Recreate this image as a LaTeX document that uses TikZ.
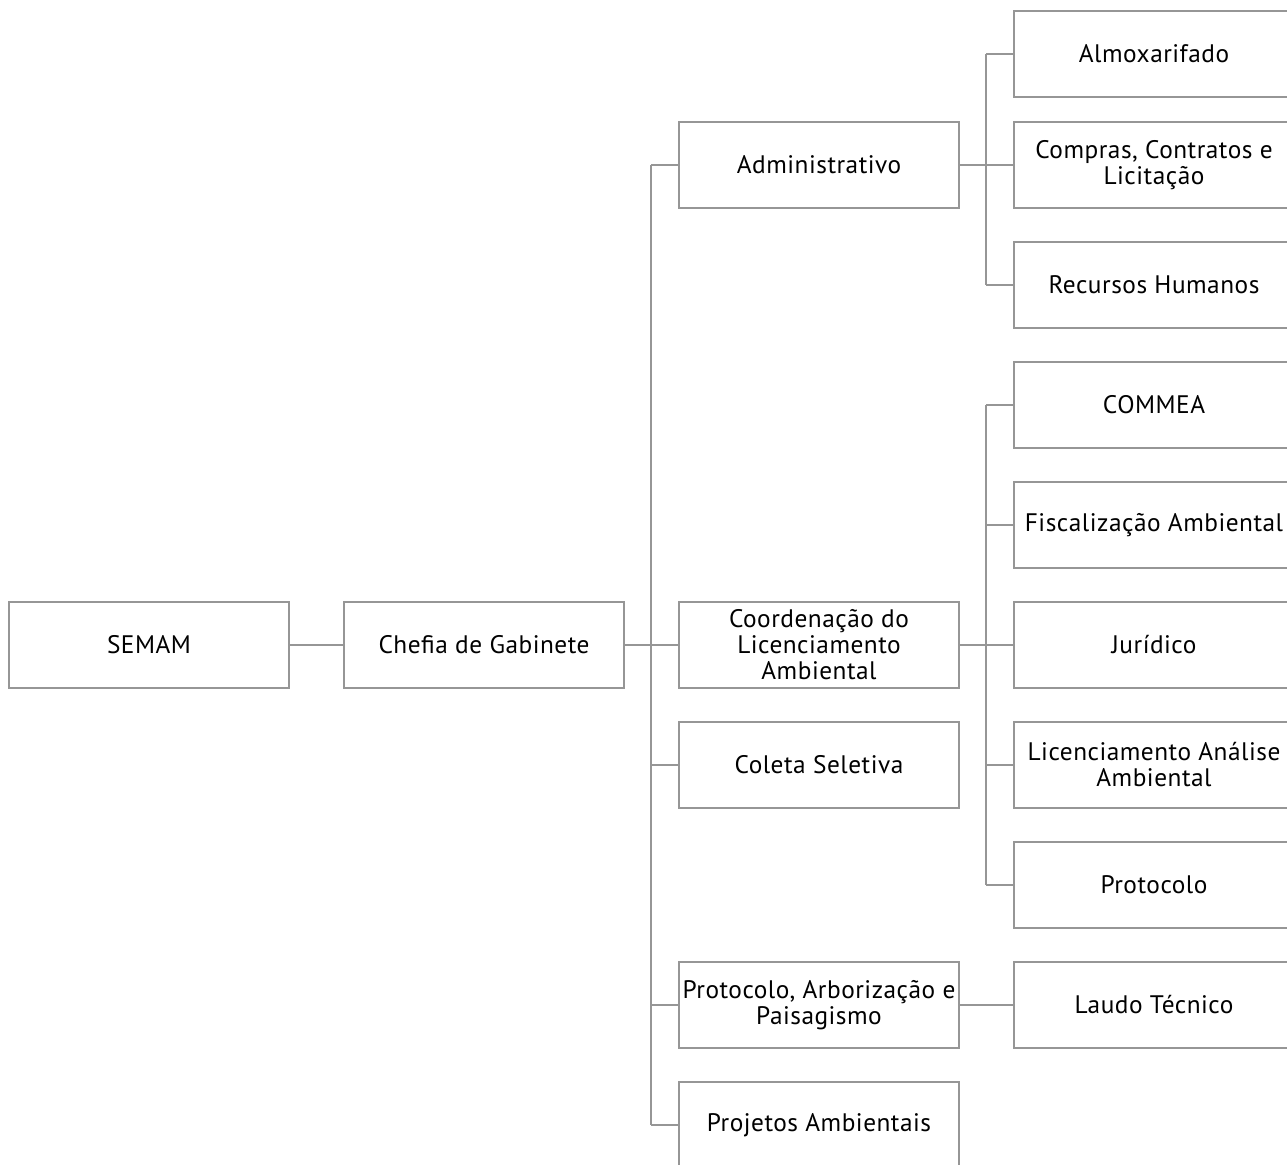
\documentclass[tikz,border=0pt]{standalone}
\usepackage{fontspec}
\setmainfont[LetterSpace=2]{PT Sans}
\definecolor{linegray}{RGB}{150,150,150}
\begin{document}
\begin{tikzpicture}[x=0.75pt,y=0.75pt,yscale=-1,xscale=1,
  orgbox/.style={draw=linegray,line width=2pt,fill=white,minimum width=210pt,minimum height=64.5pt,inner sep=0.75pt,align=center,font=\fontsize{19}{19.5}\selectfont},
  orgline/.style={draw=linegray,line width=2pt}]
\useasboundingbox (0,0) rectangle (1287,1164);
\clip (0,0) rectangle (1287,1164);

%Shape: Rectangle [id:root]
\node [orgbox] (semam) at (149,645) {SEMAM};
\node [orgbox] (chefia) at (484,645) {Chefia de Gabinete};

%Shape: Rectangle [id:level2]
\node [orgbox] (adm) at (819,165) {Administrativo};
\node [orgbox] (coord) at (819,645) {Coordenação do\\Licenciamento\\Ambiental};
\node [orgbox] (coleta) at (819,765) {Coleta Seletiva};
\node [orgbox] (arbor) at (819,1005) {Protocolo, Arborização e\\Paisagismo};
\node [orgbox] (proj) at (819,1125) {Projetos Ambientais};

%Shape: Rectangle [id:level3]
\node [orgbox] (almox) at (1154,54) {Almoxarifado};
\node [orgbox] (compras) at (1154,165) {Compras, Contratos e\\Licitação};
\node [orgbox] (rh) at (1154,285) {Recursos Humanos};
\node [orgbox] (commea) at (1154,405) {COMMEA};
\node [orgbox] (fisc) at (1154,525) {Fiscalização Ambiental};
\node [orgbox] (jur) at (1154,645) {Jurídico};
\node [orgbox] (lic) at (1154,765) {Licenciamento Análise\\Ambiental};
\node [orgbox] (prot) at (1154,885) {Protocolo};
\node [orgbox] (laudo) at (1154,1005) {Laudo Técnico};

%Straight Lines [id:bus]
\coordinate (busA) at (651,645);
\coordinate (busB) at (986,165);
\coordinate (busC) at (986,645);
\draw [orgline] (semam.east) -- (chefia.west) ;
\draw [orgline] (chefia.east) -- (busA) ;
\draw [orgline] (busA |- adm.west) -- (busA |- proj.west) ;
\foreach \n in {adm,coord,coleta,arbor,proj}
  \draw [orgline] (busA |- \n.west) -- (\n.west) ;
\draw [orgline] (adm.east) -- (busB) ;
\draw [orgline] (busB |- almox.west) -- (busB |- rh.west) ;
\foreach \n in {almox,compras,rh}
  \draw [orgline] (busB |- \n.west) -- (\n.west) ;
\draw [orgline] (coord.east) -- (busC) ;
\draw [orgline] (busC |- commea.west) -- (busC |- prot.west) ;
\foreach \n in {commea,fisc,jur,lic,prot}
  \draw [orgline] (busC |- \n.west) -- (\n.west) ;
\draw [orgline] (arbor.east) -- (laudo.west) ;

\end{tikzpicture}
\end{document}
